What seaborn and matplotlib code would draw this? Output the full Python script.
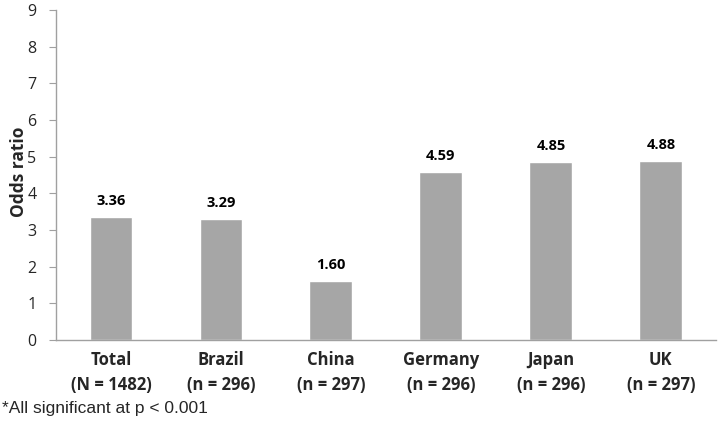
import matplotlib
matplotlib.use("Agg")
import matplotlib.pyplot as plt
import seaborn as sns
import pandas as pd

# chart data
categories = ["Total\n(N = 1482)", "Brazil\n(n = 296)", "China\n(n = 297)",
              "Germany\n(n = 296)", "Japan\n(n = 296)", "UK\n(n = 297)"]
odds_ratios = [3.36, 3.29, 1.60, 4.59, 4.85, 4.88]
value_labels = ["3.36", "3.29", "1.60", "4.59", "4.85", "4.88"]

df = pd.DataFrame({"group": categories, "odds": odds_ratios})

sns.set_style("white")
plt.rcParams["font.family"] = ["Open Sans", "DejaVu Sans"]

fig = plt.figure(figsize=(7.18, 4.25), dpi=100)
ax = fig.add_axes([0.078, 0.2, 0.919, 0.776])

sns.barplot(data=df, x="group", y="odds", color="#a6a6a6", width=0.39,
            saturation=1, ax=ax)

# value labels above bars
for i, (v, lab) in enumerate(zip(odds_ratios, value_labels)):
    ax.text(i, v + 0.25, lab, ha="center", va="bottom",
            fontsize=10.5, fontweight="bold", color="black")

ax.set_ylim(0, 9)
ax.set_xlim(-0.5, 5.5)
ax.set_yticks(range(0, 10))
ax.set_ylabel("Odds ratio", fontsize=12.5, fontweight="bold")
ax.yaxis.set_label_coords(-0.042, 0.51)
ax.set_xlabel("")

for side in ["top", "right"]:
    ax.spines[side].set_visible(False)
for side in ["left", "bottom"]:
    ax.spines[side].set_color("#a0a0a0")
    ax.spines[side].set_linewidth(1)

ax.tick_params(axis="y", direction="out", length=5, color="#a0a0a0",
               labelsize=11.5, left=True, pad=9)
ax.tick_params(axis="x", length=0, pad=8)
for t in ax.get_xticklabels():
    t.set_fontsize(12)
    t.set_fontweight("bold")
    t.set_linespacing(1.5)

fig.text(0.003, 0.02, "*All significant at p < 0.001", fontsize=12.5,
         family="Liberation Sans", ha="left", va="bottom")

fig.savefig("out.png", dpi=100)
